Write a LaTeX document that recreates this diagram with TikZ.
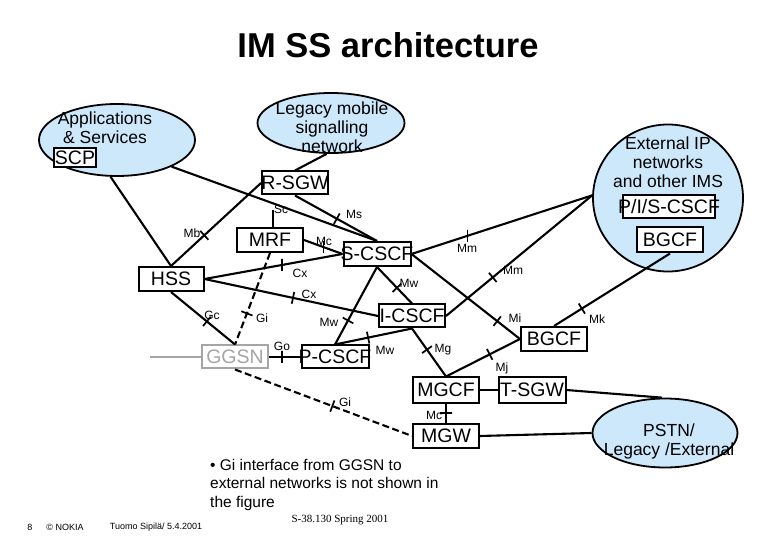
\documentclass[tikz,border=0pt]{standalone}
\usepackage{fontspec}
\setmainfont{Liberation Sans}
\newfontfamily\serifft{Liberation Serif}
\usetikzlibrary{shapes.geometric}
\definecolor{lblue}{RGB}{204,232,250}
\definecolor{ggray}{RGB}{165,165,165}
\newcommand{\fs}[2]{\fontsize{#1pt}{#2pt}\selectfont}
\newcommand{\zw}[1]{\makebox[0pt][c]{#1}}
\begin{document}
\begin{tikzpicture}[x=1pt,y=-1pt,
  ln/.style={line width=2.1pt},
  dsh/.style={line width=2.1pt, dash pattern=on 7pt off 3.5pt},
  bx/.style={draw, fill=white, line width=2pt, inner sep=0pt, minimum width=66pt, minimum height=24pt, font=\fs{19.5}{21}},
  ell/.style={ellipse, draw, fill=lblue, line width=1.8pt, inner sep=0pt},
  etxt/.style={align=center, font=\fs{17.5}{19}, inner sep=0pt},
  lab/.style={font=\fs{12}{13}, inner sep=0pt},
  tk/.style={draw, line width=1.7pt, minimum width=0pt, minimum height=12pt, inner sep=0pt, sloped, pos=#1},
  tkv/.style={draw, line width=1.7pt, minimum width=0pt, minimum height=12pt, inner sep=0pt, pos=#1},
]
\fill[white] (0,0) rectangle (780,540);
\useasboundingbox (0,0) rectangle (780,540);

% title
\node[font=\fs{34.5}{40}\bfseries, inner sep=0pt] (title) at (388,45) {IM SS architecture};

% ellipses
\node[ell, minimum width=156pt, minimum height=72pt] (apps) at (117,140) {};
\node[ell, minimum width=147pt, minimum height=60pt] (legacy) at (331,123) {};
\node[ell, minimum width=150pt, minimum height=147pt] (ext) at (668,198) {};
\node[ell, minimum width=145pt, minimum height=69pt] (pstn) at (665,433) {};

\node[etxt] (appst) at (105,128) {Applications\\\& Services};
\node[etxt] (legt) at (332,127) {Legacy mobile\\signalling\\network};
\node[etxt] (extt) at (668,162) {External IP\\networks\\and other IMS};
\node[etxt] (pstnt) at (669,441) {PSTN/\\Legacy /External};

% boxes
\node[bx, minimum width=42pt, minimum height=19pt] (scp) at (75,158) {\zw{SCP}};
\node[bx, minimum height=23pt] (rsgw) at (295,183) {\zw{R-SGW}};
\node[bx] (mrf) at (270,240) {\zw{MRF}};
\node[bx, minimum width=65pt] (hss) at (171,279) {\zw{HSS}};
\node[bx, minimum width=67pt] (scscf) at (377,254) {\zw{S-CSCF}};
\node[bx, minimum height=23pt] (icscf) at (412,316) {\zw{I-CSCF}};
\node[bx, minimum width=67pt, minimum height=23pt] (pcscf) at (335,357) {\zw{P-CSCF}};
\node[bx, draw=ggray, text=ggray, minimum height=23pt] (ggsn) at (235,357) {\zw{GGSN}};
\node[bx] (bgcf) at (554,339) {\zw{BGCF}};
\node[bx, minimum height=25pt] (mgcf) at (446,390) {\zw{MGCF}};
\node[bx, minimum width=67pt, minimum height=25pt] (tsgw) at (532,390) {\zw{T-SGW}};
\node[bx] (mgw) at (446,436) {\zw{MGW}};
\node[bx, minimum width=92pt, minimum height=23pt] (pis) at (669,207) {\zw{P/I/S-CSCF}};
\node[bx, minimum height=25pt] (bgcfx) at (670,240) {\zw{BGCF}};

% free ends
\coordinate (scend) at (273,210);
\coordinate (gl) at (150,357);

% connectors
\draw[ln] (apps.-100) -- (hss.north);
\draw[ln] (apps.-26) -- (scscf.north);
\draw[ln] (legacy.-98) -- (rsgw.north);
\draw[ln] (hss.north) -- node[tk=0.37] (t1) {} (rsgw.west);
\draw[ln] (rsgw.south) -- node[tk=0.51] (t2) {} (scscf.north);
\draw[ln] (scend) -- (scend |- mrf.north);
\draw[ln] (mrf.east) -- node[tkv=0.51] (t3) {} (scscf.west);
\draw[ln] (hss.east) -- node[tkv=0.56] (t4) {} (scscf.west);
\draw[ln] (hss.east) -- node[tk=0.51] (t5) {} (icscf.west);
\draw[ln] (hss.south) -- node[tk=0.56] (t6) {} (ggsn.north);
\draw[dsh] (mrf.south) -- node[tk=0.66] (t7) {} (ggsn.north);
\draw[dsh] (ggsn.south) -- node[tk=0.55] (t8) {} (mgw.west);
\draw[ggray, line width=2.1pt] (gl) -- (ggsn.west);
\draw[ln] (ggsn.east) -- node[tkv=0.41] (t9) {} (pcscf.west);
\draw[ln] (scscf.south) -- node[tk=0.69] (t10) {} (pcscf.north);
\draw[ln] (scscf.south) -- node[tk=0.57] (t11) {} (icscf.north);
\draw[ln] (icscf.south) -- node[tk=0.57] (t12) {} (pcscf.north);
\draw[ln] (icscf.south) -- node[tk=0.44] (t13) {} (mgcf.north);
\draw[ln] (scscf.east) -- node[tkv=0.31] (t14) {} (ext.178);
\draw[ln] (icscf.east) -- node[tk=0.32] (t15) {} (ext.178);
\draw[ln] (scscf.east) -- node[tk=0.79] (t16) {} (bgcf.west);
\draw[ln] (bgcf.west) -- node[tk=0.41] (t17) {} (mgcf.north);
\draw[ln] (bgcf.north) -- node[tk=0.24] (t18) {} (bgcfx.south);
\draw[ln] (mgcf.east) -- (tsgw.west);
\draw[ln] (tsgw.east) -- (pstn.95);
\draw[ln] (mgcf.south) -- node[tk=0.5] (t19) {} (mgw.north);
\draw[ln] (mgw.east) -- (pstn.west);

% interface labels
\node[lab] (lmb) at (192,233) {Mb};
\node[lab] (lsc) at (281,209) {Sc};
\node[lab] (lms) at (354,214) {Ms};
\node[lab] (lmc) at (324,241) {Mc};
\node[lab] (lcx1) at (300,273) {Cx};
\node[lab] (lcx2) at (309,294) {Cx};
\node[lab] (lgc) at (212,315) {Gc};
\node[lab] (lgi1) at (262,318) {Gi};
\node[lab] (lmw1) at (329,322) {Mw};
\node[lab] (lmw2) at (409,283) {Mw};
\node[lab] (lmw3) at (385,350) {Mw};
\node[lab] (lgo) at (282,346) {Go};
\node[lab] (lgi2) at (345,402) {Gi};
\node[lab] (lmg) at (443,350) {Mg};
\node[lab] (lmm1) at (467,248) {Mm};
\node[lab] (lmm2) at (513,270) {Mm};
\node[lab] (lmi) at (515,318) {Mi};
\node[lab] (lmj) at (502,368) {Mj};
\node[lab] (lmk) at (597,319) {Mk};
\node[lab] (lmc2) at (434,415) {Mc};

% footer
\node[anchor=north west, align=left, font=\fs{15.5}{18.3}, inner sep=0pt] (note) at (210,459)
  {• Gi interface from GGSN to\\external networks is not shown in\\the figure};
\node[font=\serifft\fs{11}{12}, inner sep=0pt] (course) at (340,520) {S-38.130 Spring 2001};
\node[font=\fs{9}{10}, inner sep=0pt] (pg) at (30,527) {8};
\node[font=\fs{9}{10}, inner sep=0pt] (nokia) at (65,527) {© NOKIA};
\node[font=\fs{9}{10}, inner sep=0pt] (auth) at (156,527) {Tuomo Sipilä/ 5.4.2001};
\end{tikzpicture}
\end{document}
